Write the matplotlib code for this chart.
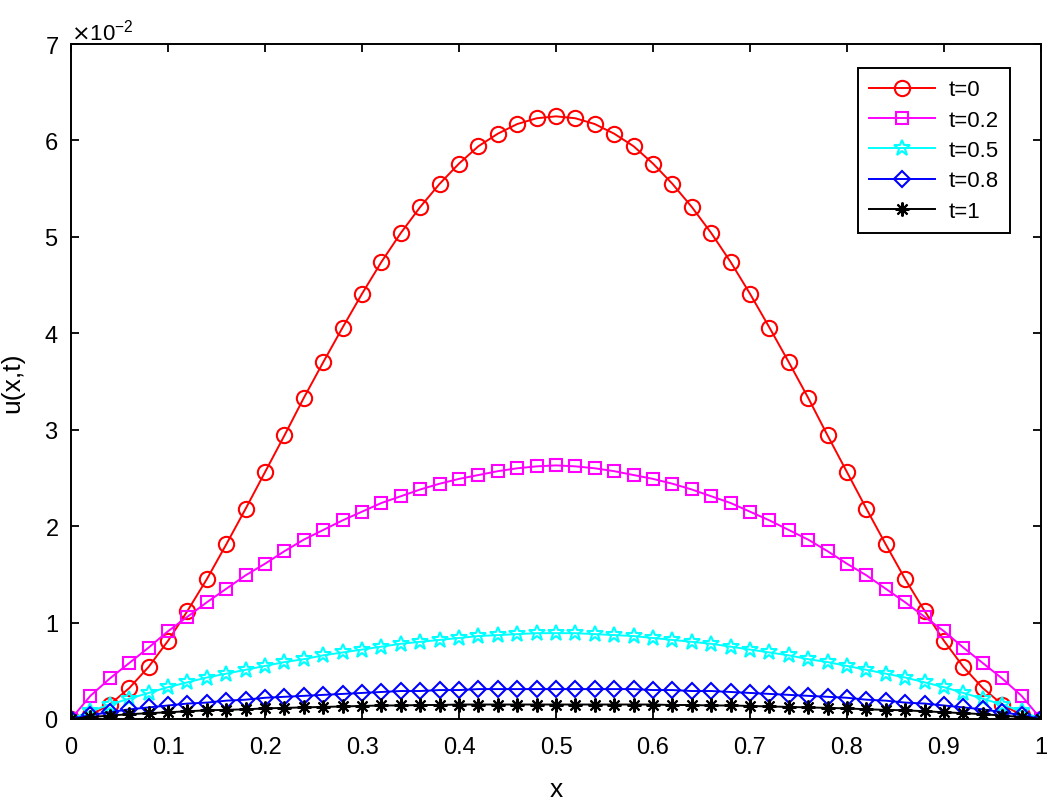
import numpy as np
import matplotlib
matplotlib.use('Agg')
import matplotlib.pyplot as plt
from matplotlib.ticker import ScalarFormatter

# grid points 0:0.02:1
x = np.linspace(0, 1, 51)

# values, in units of 1e-2
u_t0 = [0, 0.04, 0.15, 0.32, 0.54, 0.81, 1.12, 1.45, 1.81, 2.18, 2.56, 2.94, 3.33, 3.70, 4.06, 4.41, 4.74,
        5.04, 5.31, 5.55, 5.76, 5.94, 6.07, 6.17, 6.23, 6.25, 6.23, 6.17, 6.07, 5.94, 5.76, 5.55, 5.31, 5.04,
        4.74, 4.41, 4.06, 3.70, 3.33, 2.94, 2.56, 2.18, 1.81, 1.45, 1.12, 0.81, 0.54, 0.32, 0.15, 0.04, 0]
u_t02 = [0, 0.24, 0.42, 0.58, 0.74, 0.91, 1.06, 1.21, 1.35, 1.49, 1.61, 1.74, 1.86, 1.96, 2.06, 2.15, 2.24,
         2.31, 2.38, 2.44, 2.49, 2.53, 2.57, 2.60, 2.62, 2.63, 2.62, 2.60, 2.57, 2.53, 2.49, 2.44, 2.38, 2.31,
         2.24, 2.15, 2.06, 1.96, 1.86, 1.74, 1.61, 1.49, 1.35, 1.21, 1.06, 0.91, 0.74, 0.58, 0.42, 0.24, 0]
u_t05 = [0, 0.08, 0.15, 0.21, 0.27, 0.33, 0.38, 0.43, 0.47, 0.51, 0.55, 0.59, 0.62, 0.66, 0.69, 0.72, 0.75,
         0.78, 0.80, 0.82, 0.84, 0.86, 0.87, 0.88, 0.89, 0.89, 0.89, 0.88, 0.87, 0.86, 0.84, 0.82, 0.80, 0.78,
         0.75, 0.72, 0.69, 0.66, 0.62, 0.59, 0.55, 0.51, 0.47, 0.43, 0.38, 0.33, 0.27, 0.21, 0.15, 0.08, 0]
u_t08 = [0, 0.04, 0.07, 0.10, 0.12, 0.14, 0.16, 0.17, 0.19, 0.20, 0.22, 0.23, 0.24, 0.25, 0.26, 0.27, 0.28,
         0.29, 0.29, 0.30, 0.30, 0.31, 0.31, 0.31, 0.31, 0.31, 0.31, 0.31, 0.31, 0.31, 0.30, 0.30, 0.29, 0.29,
         0.28, 0.27, 0.26, 0.25, 0.24, 0.23, 0.22, 0.20, 0.19, 0.17, 0.16, 0.14, 0.12, 0.10, 0.07, 0.04, 0]
u_t1 = [0, 0.02, 0.035, 0.05, 0.06, 0.07, 0.08, 0.09, 0.095, 0.10, 0.11, 0.115, 0.12, 0.125, 0.13, 0.135, 0.14,
        0.14, 0.145, 0.145, 0.15, 0.15, 0.15, 0.15, 0.15, 0.15, 0.15, 0.15, 0.15, 0.15, 0.15, 0.145, 0.145, 0.14,
        0.14, 0.135, 0.13, 0.125, 0.12, 0.115, 0.11, 0.10, 0.095, 0.09, 0.08, 0.07, 0.06, 0.05, 0.035, 0.02, 0]

labels = ['t=0', 't=0.2', 't=0.5', 't=0.8', 't=1']

plt.rcParams['font.family'] = ['Liberation Sans', 'DejaVu Sans']

fig = plt.figure(figsize=(10.63, 8.04), dpi=100)
ax = fig.add_axes([0.0668, 0.1045, 0.9125, 0.8395])

lw = 1.4
ax.plot(x, np.array(u_t0) * 1e-2, '-o', color='red', mfc='none', ms=11, mew=1.5, lw=lw, label=labels[0])
ax.plot(x, np.array(u_t02) * 1e-2, '-s', color='#ff00ff', mfc='none', ms=8.5, mew=1.5, lw=lw, label=labels[1])
ax.plot(x, np.array(u_t05) * 1e-2, '-*', color='#00ffff', mfc='none', ms=12, mew=1.5, lw=lw, label=labels[2])
ax.plot(x, np.array(u_t08) * 1e-2, '-D', color='blue', mfc='none', ms=8.5, mew=1.5, lw=lw, label=labels[3])
ax.plot(x, np.array(u_t1) * 1e-2, '-', color='black', marker=(8, 2, 0), ms=10, mew=1.5, lw=lw, label=labels[4])

ax.set_xlim(0, 1)
ax.set_ylim(0, 0.07)
ax.set_xticks(np.arange(0, 1.01, 0.1))
ax.set_xticklabels(['0', '0.1', '0.2', '0.3', '0.4', '0.5', '0.6', '0.7', '0.8', '0.9', '1'])
ax.set_yticks(np.arange(0, 0.0701, 0.01))

fmt = ScalarFormatter(useMathText=True)
fmt.set_powerlimits((-1, 1))
ax.yaxis.set_major_formatter(fmt)
ax.yaxis.get_offset_text().set_fontsize(16)

ax.tick_params(direction='in', top=True, right=True, length=6, width=1.3, labelsize=17)
ax.tick_params(axis='x', pad=12)
ax.tick_params(axis='y', pad=9)
for s in ax.spines.values():
    s.set_linewidth(1.4)

ax.set_xlabel('x', fontsize=19, labelpad=14)
ax.set_ylabel('u(x,t)', fontsize=19, labelpad=14)

leg = ax.legend(loc='upper right', bbox_to_anchor=(0.968, 0.964), borderaxespad=0, fontsize=16,
                handlelength=3.0, handletextpad=0.6, fancybox=False, edgecolor='black', framealpha=1,
                borderpad=0.5, labelspacing=0.42)
leg.get_frame().set_linewidth(1.4)

fig.savefig('out.png', dpi=100)
